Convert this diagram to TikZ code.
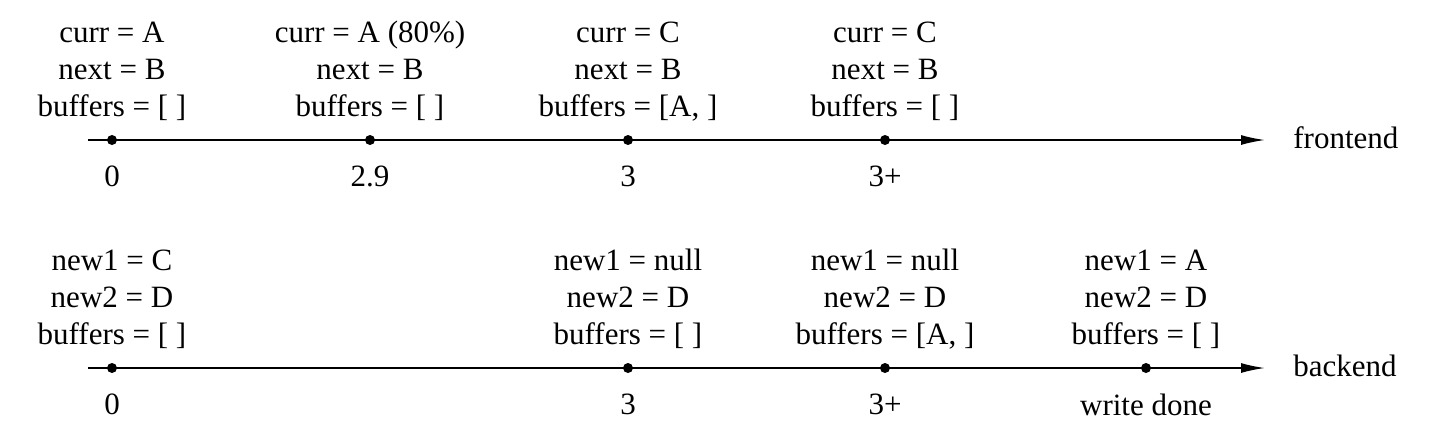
\documentclass[tikz,border=0pt]{standalone}
\usepackage{fontspec}
\setmainfont{Liberation Serif}
\usetikzlibrary{arrows.meta,positioning}

\tikzset{
  axis/.style={line width=0.8pt, -{Latex[length=12pt,width=5pt]}},
  tick/.style={circle, fill=black, inner sep=0pt, minimum size=5pt},
  state/.style={align=center, inner sep=0pt},
  stamp/.style={inner sep=0pt}
}

\begin{document}
\begin{tikzpicture}[x=0.5pt,y=-0.5pt, font=\fontsize{15.5}{18.5}\selectfont]
\useasboundingbox (0,0) rectangle (1432,436);

% Frontend axis
\coordinate (fs) at (88,140);
\coordinate (fe) at (1265,140);
\draw[axis] (fs) -- (fe);
\node[stamp, right=14pt of fe, yshift=1pt] (flabel) {frontend};

\node[tick] (f0) at (112,140) {};
\node[tick] (f1) at (370,140) {};
\node[tick] (f2) at (628,140) {};
\node[tick] (f3) at (885,140) {};

\node[state, above=3.5pt of f0] {curr = A\\ next = B\\ buffers = [ ]\strut};
\node[state, above=3.5pt of f1] {curr = A (80\%)\\ next = B\\ buffers = [ ]\strut};
\node[state, above=3.5pt of f2] {curr = C\\ next = B\\ buffers = [A, ]\strut};
\node[state, above=3.5pt of f3] {curr = C\\ next = B\\ buffers = [ ]\strut};

\node[stamp, below=10pt of f0] {0};
\node[stamp, below=10pt of f1] {2.9};
\node[stamp, below=10pt of f2] {3};
\node[stamp, below=10pt of f3] {3+};

% Backend axis
\coordinate (bs) at (88,368);
\coordinate (be) at (1265,368);
\draw[axis] (bs) -- (be);
\node[stamp, right=14pt of be, yshift=1pt] (blabel) {backend};

\node[tick] (b0) at (112,368) {};
\node[tick] (b1) at (628,368) {};
\node[tick] (b2) at (885,368) {};
\node[tick] (b3) at (1146,368) {};

\node[state, above=3.5pt of b0] {new1 = C\\ new2 = D\\ buffers = [ ]\strut};
\node[state, above=3.5pt of b1] {new1 = null\\ new2 = D\\ buffers = [ ]\strut};
\node[state, above=3.5pt of b2] {new1 = null\\ new2 = D\\ buffers = [A, ]\strut};
\node[state, above=3.5pt of b3] {new1 = A\\ new2 = D\\ buffers = [ ]\strut};

\node[stamp, below=10pt of b0] {0};
\node[stamp, below=10pt of b1] {3};
\node[stamp, below=10pt of b2] {3+};
\node[stamp, below=10pt of b3] {write done};
\end{tikzpicture}
\end{document}
